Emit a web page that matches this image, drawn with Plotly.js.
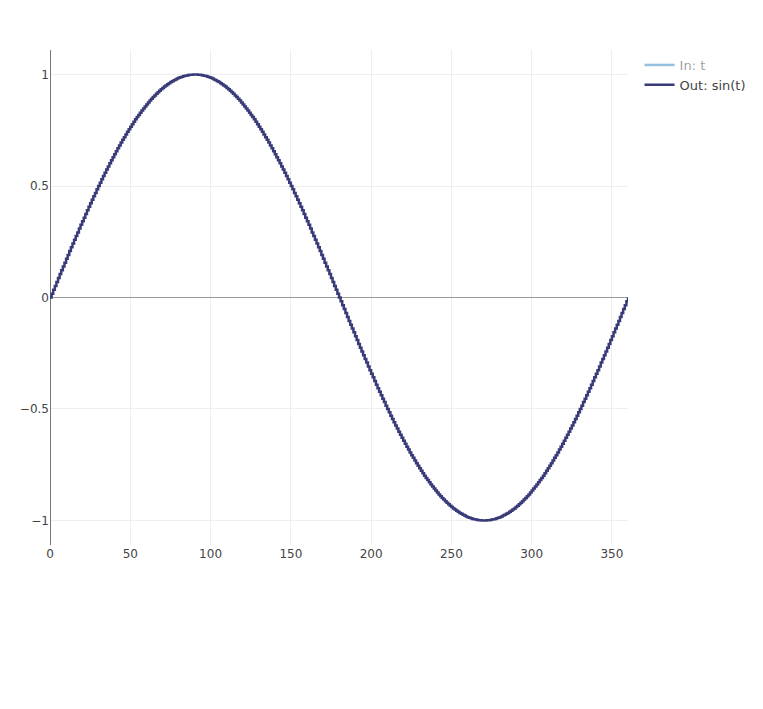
<!DOCTYPE html>
<html>
<head>
<meta charset="utf-8">
<script src="https://cdn.plot.ly/plotly-3.0.1.min.js"></script>
<style>html,body{margin:0;padding:0;background:#fff;}#chart{width:763px;height:709px;}</style>
</head>
<body>
<div id="chart"></div>
<script>
// Input angle t (degrees)
var tValues = [
0,1,2,3,4,5,6,7,8,9,10,11,12,13,14,15,16,17,18,19,
20,21,22,23,24,25,26,27,28,29,30,31,32,33,34,35,36,37,38,39,
40,41,42,43,44,45,46,47,48,49,50,51,52,53,54,55,56,57,58,59,
60,61,62,63,64,65,66,67,68,69,70,71,72,73,74,75,76,77,78,79,
80,81,82,83,84,85,86,87,88,89,90,91,92,93,94,95,96,97,98,99,
100,101,102,103,104,105,106,107,108,109,110,111,112,113,114,115,116,117,118,119,
120,121,122,123,124,125,126,127,128,129,130,131,132,133,134,135,136,137,138,139,
140,141,142,143,144,145,146,147,148,149,150,151,152,153,154,155,156,157,158,159,
160,161,162,163,164,165,166,167,168,169,170,171,172,173,174,175,176,177,178,179,
180,181,182,183,184,185,186,187,188,189,190,191,192,193,194,195,196,197,198,199,
200,201,202,203,204,205,206,207,208,209,210,211,212,213,214,215,216,217,218,219,
220,221,222,223,224,225,226,227,228,229,230,231,232,233,234,235,236,237,238,239,
240,241,242,243,244,245,246,247,248,249,250,251,252,253,254,255,256,257,258,259,
260,261,262,263,264,265,266,267,268,269,270,271,272,273,274,275,276,277,278,279,
280,281,282,283,284,285,286,287,288,289,290,291,292,293,294,295,296,297,298,299,
300,301,302,303,304,305,306,307,308,309,310,311,312,313,314,315,316,317,318,319,
320,321,322,323,324,325,326,327,328,329,330,331,332,333,334,335,336,337,338,339,
340,341,342,343,344,345,346,347,348,349,350,351,352,353,354,355,356,357,358,359,
360
];

// Output sin(t)
var sinValues = [
0,0.017,0.035,0.052,0.070,0.087,0.105,0.122,0.139,0.156,
0.174,0.191,0.208,0.225,0.242,0.259,0.276,0.292,0.309,0.326,
0.342,0.358,0.375,0.391,0.407,0.423,0.438,0.454,0.469,0.485,
0.500,0.515,0.530,0.545,0.559,0.574,0.588,0.602,0.616,0.629,
0.643,0.656,0.669,0.682,0.695,0.707,0.719,0.731,0.743,0.755,
0.766,0.777,0.788,0.799,0.809,0.819,0.829,0.839,0.848,0.857,
0.866,0.875,0.883,0.891,0.899,0.906,0.914,0.921,0.927,0.934,
0.940,0.946,0.951,0.956,0.961,0.966,0.970,0.974,0.978,0.982,
0.985,0.988,0.990,0.993,0.995,0.996,0.998,0.999,0.999,1.000,
1.000,
1.000,0.999,0.999,0.998,0.996,0.995,0.993,0.990,0.988,0.985,
0.982,0.978,0.974,0.970,0.966,0.961,0.956,0.951,0.946,0.940,
0.934,0.927,0.921,0.914,0.906,0.899,0.891,0.883,0.875,0.866,
0.857,0.848,0.839,0.829,0.819,0.809,0.799,0.788,0.777,0.766,
0.755,0.743,0.731,0.719,0.707,0.695,0.682,0.669,0.656,0.643,
0.629,0.616,0.602,0.588,0.574,0.559,0.545,0.530,0.515,0.500,
0.485,0.469,0.454,0.438,0.423,0.407,0.391,0.375,0.358,0.342,
0.326,0.309,0.292,0.276,0.259,0.242,0.225,0.208,0.191,0.174,
0.156,0.139,0.122,0.105,0.087,0.070,0.052,0.035,0.017,0,
-0.017,-0.035,-0.052,-0.070,-0.087,-0.105,-0.122,-0.139,-0.156,-0.174,
-0.191,-0.208,-0.225,-0.242,-0.259,-0.276,-0.292,-0.309,-0.326,-0.342,
-0.358,-0.375,-0.391,-0.407,-0.423,-0.438,-0.454,-0.469,-0.485,-0.500,
-0.515,-0.530,-0.545,-0.559,-0.574,-0.588,-0.602,-0.616,-0.629,-0.643,
-0.656,-0.669,-0.682,-0.695,-0.707,-0.719,-0.731,-0.743,-0.755,-0.766,
-0.777,-0.788,-0.799,-0.809,-0.819,-0.829,-0.839,-0.848,-0.857,-0.866,
-0.875,-0.883,-0.891,-0.899,-0.906,-0.914,-0.921,-0.927,-0.934,-0.940,
-0.946,-0.951,-0.956,-0.961,-0.966,-0.970,-0.974,-0.978,-0.982,-0.985,
-0.988,-0.990,-0.993,-0.995,-0.996,-0.998,-0.999,-0.999,-1.000,-1.000,
-1.000,-0.999,-0.999,-0.998,-0.996,-0.995,-0.993,-0.990,-0.988,-0.985,
-0.982,-0.978,-0.974,-0.970,-0.966,-0.961,-0.956,-0.951,-0.946,-0.940,
-0.934,-0.927,-0.921,-0.914,-0.906,-0.899,-0.891,-0.883,-0.875,-0.866,
-0.857,-0.848,-0.839,-0.829,-0.819,-0.809,-0.799,-0.788,-0.777,-0.766,
-0.755,-0.743,-0.731,-0.719,-0.707,-0.695,-0.682,-0.669,-0.656,-0.643,
-0.629,-0.616,-0.602,-0.588,-0.574,-0.559,-0.545,-0.530,-0.515,-0.500,
-0.485,-0.469,-0.454,-0.438,-0.423,-0.407,-0.391,-0.375,-0.358,-0.342,
-0.326,-0.309,-0.292,-0.276,-0.259,-0.242,-0.225,-0.208,-0.191,-0.174,
-0.156,-0.139,-0.122,-0.105,-0.087,-0.070,-0.052,-0.035,-0.017,0
];

var seriesNames = ['In: t', 'Out: sin(t)'];

var traces = [
  {
    x: tValues, y: tValues, name: seriesNames[0], type: 'scatter', mode: 'lines',
    visible: 'legendonly',
    line: {color: '#3182bd', width: 2.5, shape: 'hv'}
  },
  {
    x: tValues, y: sinValues, name: seriesNames[1], type: 'scatter', mode: 'lines',
    line: {color: '#393b79', width: 2.5, shape: 'hv'}
  }
];

var layout = {
  width: 763, height: 709,
  margin: {l: 50, r: 135, t: 50, b: 164},
  paper_bgcolor: '#fff', plot_bgcolor: '#fff',
  font: {family: '"DejaVu Sans", Verdana, sans-serif', size: 12, color: '#444'},
  showlegend: true,
  legend: {font: {family: '"DejaVu Sans", Verdana, sans-serif', size: 13, color: '#444'}},
  xaxis: {range: [0, 360], gridcolor: '#eee', zeroline: true, zerolinecolor: '#777', showline: false, ticks: ''},
  yaxis: {range: [-1.11, 1.11], gridcolor: '#eee', zeroline: true, zerolinecolor: '#999', showline: false, ticks: '', dtick: 0.5}
};

Plotly.newPlot('chart', traces, layout, {displayModeBar: false});
</script>
</body>
</html>
